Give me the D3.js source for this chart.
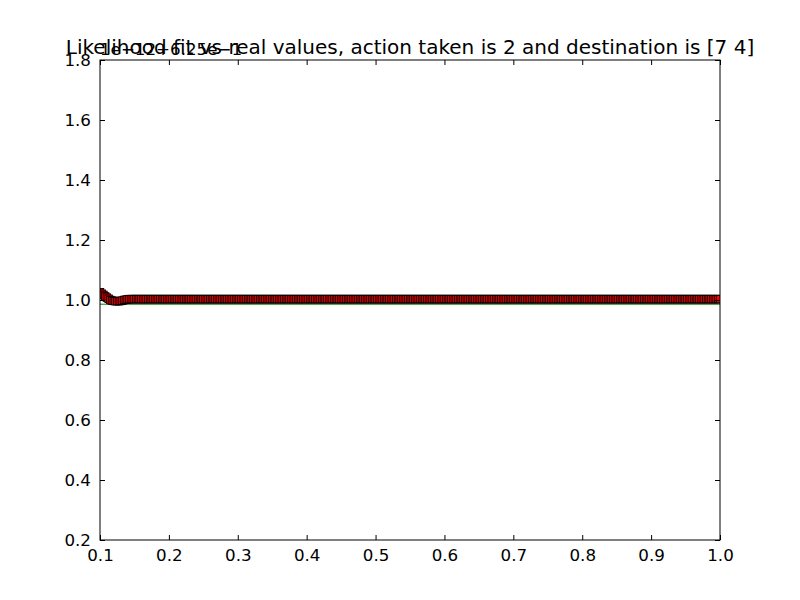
<!DOCTYPE html>
<html lang="en">
<head>
<meta charset="utf-8">
<title>Likelihood fit vs real values</title>
<script src="https://cdn.jsdelivr.net/npm/d3@7"></script>
<style>
  body { margin: 0; background: #fff; }
  svg { display: block; }
  text { font-family: "DejaVu Sans", sans-serif; fill: #000; }
  .axis path { stroke: #000; }
  .axis line { stroke: #000; }
</style>
</head>
<body>
<script>
// chart text
var titleText = "Likelihood fit vs real values, action taken is 2 and destination is [7 4]";
var offsetText = "1e\u221212+6.25e\u22121";

// tick labels
var xTicks = [0.1, 0.2, 0.3, 0.4, 0.5, 0.6, 0.7, 0.8, 0.9, 1.0];
var yTicks = [0.2, 0.4, 0.6, 0.8, 1.0, 1.2, 1.4, 1.6, 1.8];

// sample points (x), a dense grid across the axis
var xs = [
  0.1000,0.1025,0.1050,0.1075,0.1100,0.1125,0.1150,0.1175,
  0.1200,0.1225,0.1250,0.1275,0.1300,0.1325,0.1350,0.1375,
  0.1400,0.1425,0.1450,0.1475,0.1500,0.1525,0.1550,0.1575,
  0.1600,0.1625,0.1650,0.1675,0.1700,0.1725,0.1750,0.1775,
  0.1800,0.1825,0.1850,0.1875,0.1900,0.1925,0.1950,0.1975,
  0.2000,0.2025,0.2050,0.2075,0.2100,0.2125,0.2150,0.2175,
  0.2200,0.2225,0.2250,0.2275,0.2300,0.2325,0.2350,0.2375,
  0.2400,0.2425,0.2450,0.2475,0.2500,0.2525,0.2550,0.2575,
  0.2600,0.2625,0.2650,0.2675,0.2700,0.2725,0.2750,0.2775,
  0.2800,0.2825,0.2850,0.2875,0.2900,0.2925,0.2950,0.2975,
  0.3000,0.3025,0.3050,0.3075,0.3100,0.3125,0.3150,0.3175,
  0.3200,0.3225,0.3250,0.3275,0.3300,0.3325,0.3350,0.3375,
  0.3400,0.3425,0.3450,0.3475,0.3500,0.3525,0.3550,0.3575,
  0.3600,0.3625,0.3650,0.3675,0.3700,0.3725,0.3750,0.3775,
  0.3800,0.3825,0.3850,0.3875,0.3900,0.3925,0.3950,0.3975,
  0.4000,0.4025,0.4050,0.4075,0.4100,0.4125,0.4150,0.4175,
  0.4200,0.4225,0.4250,0.4275,0.4300,0.4325,0.4350,0.4375,
  0.4400,0.4425,0.4450,0.4475,0.4500,0.4525,0.4550,0.4575,
  0.4600,0.4625,0.4650,0.4675,0.4700,0.4725,0.4750,0.4775,
  0.4800,0.4825,0.4850,0.4875,0.4900,0.4925,0.4950,0.4975,
  0.5000,0.5025,0.5050,0.5075,0.5100,0.5125,0.5150,0.5175,
  0.5200,0.5225,0.5250,0.5275,0.5300,0.5325,0.5350,0.5375,
  0.5400,0.5425,0.5450,0.5475,0.5500,0.5525,0.5550,0.5575,
  0.5600,0.5625,0.5650,0.5675,0.5700,0.5725,0.5750,0.5775,
  0.5800,0.5825,0.5850,0.5875,0.5900,0.5925,0.5950,0.5975,
  0.6000,0.6025,0.6050,0.6075,0.6100,0.6125,0.6150,0.6175,
  0.6200,0.6225,0.6250,0.6275,0.6300,0.6325,0.6350,0.6375,
  0.6400,0.6425,0.6450,0.6475,0.6500,0.6525,0.6550,0.6575,
  0.6600,0.6625,0.6650,0.6675,0.6700,0.6725,0.6750,0.6775,
  0.6800,0.6825,0.6850,0.6875,0.6900,0.6925,0.6950,0.6975,
  0.7000,0.7025,0.7050,0.7075,0.7100,0.7125,0.7150,0.7175,
  0.7200,0.7225,0.7250,0.7275,0.7300,0.7325,0.7350,0.7375,
  0.7400,0.7425,0.7450,0.7475,0.7500,0.7525,0.7550,0.7575,
  0.7600,0.7625,0.7650,0.7675,0.7700,0.7725,0.7750,0.7775,
  0.7800,0.7825,0.7850,0.7875,0.7900,0.7925,0.7950,0.7975,
  0.8000,0.8025,0.8050,0.8075,0.8100,0.8125,0.8150,0.8175,
  0.8200,0.8225,0.8250,0.8275,0.8300,0.8325,0.8350,0.8375,
  0.8400,0.8425,0.8450,0.8475,0.8500,0.8525,0.8550,0.8575,
  0.8600,0.8625,0.8650,0.8675,0.8700,0.8725,0.8750,0.8775,
  0.8800,0.8825,0.8850,0.8875,0.8900,0.8925,0.8950,0.8975,
  0.9000,0.9025,0.9050,0.9075,0.9100,0.9125,0.9150,0.9175,
  0.9200,0.9225,0.9250,0.9275,0.9300,0.9325,0.9350,0.9375,
  0.9400,0.9425,0.9450,0.9475,0.9500,0.9525,0.9550,0.9575,
  0.9600,0.9625,0.9650,0.9675,0.9700,0.9725,0.9750,0.9775,
  0.9800,0.9825,0.9850,0.9875,0.9900,0.9925,0.9950,0.9975,
  1.0000];

// likelihood fit (red squares), in units of 1e-12 above 0.625
var fitValues = [
  1.026,1.021,1.017,1.012,1.008,1.004,1.000,0.998,
  0.997,0.996,0.996,0.996,0.997,0.998,1.000,1.001,
  1.002,1.003,1.003,1.003,1.003,1.003,1.003,1.003,
  1.003,1.003,1.003,1.003,1.003,1.003,1.003,1.003,
  1.003,1.003,1.003,1.003,1.003,1.003,1.003,1.003,
  1.003,1.003,1.003,1.003,1.003,1.003,1.003,1.003,
  1.003,1.003,1.003,1.003,1.003,1.003,1.003,1.003,
  1.003,1.003,1.003,1.003,1.003,1.003,1.003,1.003,
  1.003,1.003,1.003,1.003,1.003,1.003,1.003,1.003,
  1.003,1.003,1.003,1.003,1.003,1.003,1.003,1.003,
  1.003,1.003,1.003,1.003,1.003,1.003,1.003,1.003,
  1.003,1.003,1.003,1.003,1.003,1.003,1.003,1.003,
  1.003,1.003,1.003,1.003,1.003,1.003,1.003,1.003,
  1.003,1.003,1.003,1.003,1.003,1.003,1.003,1.003,
  1.003,1.003,1.003,1.003,1.003,1.003,1.003,1.003,
  1.003,1.003,1.003,1.003,1.003,1.003,1.003,1.003,
  1.003,1.003,1.003,1.003,1.003,1.003,1.003,1.003,
  1.003,1.003,1.003,1.003,1.003,1.003,1.003,1.003,
  1.003,1.003,1.003,1.003,1.003,1.003,1.003,1.003,
  1.003,1.003,1.003,1.003,1.003,1.003,1.003,1.003,
  1.003,1.003,1.003,1.003,1.003,1.003,1.003,1.003,
  1.003,1.003,1.003,1.003,1.003,1.003,1.003,1.003,
  1.003,1.003,1.003,1.003,1.003,1.003,1.003,1.003,
  1.003,1.003,1.003,1.003,1.003,1.003,1.003,1.003,
  1.003,1.003,1.003,1.003,1.003,1.003,1.003,1.003,
  1.003,1.003,1.003,1.003,1.003,1.003,1.003,1.003,
  1.003,1.003,1.003,1.003,1.003,1.003,1.003,1.003,
  1.003,1.003,1.003,1.003,1.003,1.003,1.003,1.003,
  1.003,1.003,1.003,1.003,1.003,1.003,1.003,1.003,
  1.003,1.003,1.003,1.003,1.003,1.003,1.003,1.003,
  1.003,1.003,1.003,1.003,1.003,1.003,1.003,1.003,
  1.003,1.003,1.003,1.003,1.003,1.003,1.003,1.003,
  1.003,1.003,1.003,1.003,1.003,1.003,1.003,1.003,
  1.003,1.003,1.003,1.003,1.003,1.003,1.003,1.003,
  1.003,1.003,1.003,1.003,1.003,1.003,1.003,1.003,
  1.003,1.003,1.003,1.003,1.003,1.003,1.003,1.003,
  1.003,1.003,1.003,1.003,1.003,1.003,1.003,1.003,
  1.003,1.003,1.003,1.003,1.003,1.003,1.003,1.003,
  1.003,1.003,1.003,1.003,1.003,1.003,1.003,1.003,
  1.003,1.003,1.003,1.003,1.003,1.003,1.003,1.003,
  1.003,1.003,1.003,1.003,1.003,1.003,1.003,1.003,
  1.003,1.003,1.003,1.003,1.003,1.003,1.003,1.003,
  1.003,1.003,1.003,1.003,1.003,1.003,1.003,1.003,
  1.003,1.003,1.003,1.003,1.003,1.003,1.003,1.003,
  1.003,1.003,1.003,1.003,1.003,1.003,1.003,1.003,
  1.003];

// real values (green line)
var realX = [0.1, 1.0];
var realValues = [0.986, 0.986];

var w = 800;
var h = 600;
var plotLeft = 100, plotRight = 720, plotTop = 60, plotBottom = 540;

var xScale = d3.scaleLinear().domain([0.1, 1.0]).range([plotLeft, plotRight]);
var yScale = d3.scaleLinear().domain([0.2, 1.8]).range([plotBottom, plotTop]);

var svg = d3.select("body").append("svg")
  .attr("width", w)
  .attr("height", h);

svg.append("defs").append("clipPath").attr("id", "plotclip")
  .append("rect")
  .attr("x", plotLeft).attr("y", plotTop)
  .attr("width", plotRight - plotLeft).attr("height", plotBottom - plotTop);

var plot = svg.append("g").attr("clip-path", "url(#plotclip)");

// real values line
var line = d3.line()
  .x(function(d, i) { return xScale(realX[i]); })
  .y(function(d) { return yScale(d); });

plot.append("path")
  .datum(realValues)
  .attr("d", line)
  .attr("fill", "none")
  .attr("stroke", "#008000")
  .attr("stroke-width", 1);

// fit markers (dense, so the black edges darken the band)
var ms = 7.5;
plot.selectAll("rect.fit")
  .data(fitValues)
  .enter()
  .append("rect")
  .attr("class", "fit")
  .attr("x", function(d, i) { return xScale(xs[i]) - ms / 2; })
  .attr("y", function(d) { return yScale(d) - ms / 2; })
  .attr("width", ms)
  .attr("height", ms)
  .attr("fill", "#ff0000")
  .attr("stroke", "#000")
  .attr("stroke-width", 0.9);

// axes: ticks inward on all four sides
var fmt = d3.format(".1f");
var tickLen = 5;

svg.append("g").attr("class", "axis")
  .attr("transform", "translate(0," + plotBottom + ")")
  .call(d3.axisBottom(xScale).tickValues(xTicks).tickFormat(fmt)
    .tickSizeInner(-tickLen).tickSizeOuter(0).tickPadding(9))
  .call(function(g) { g.select(".domain").remove(); })
  .selectAll("text").attr("font-size", "16.7px");

svg.append("g").attr("class", "axis")
  .attr("transform", "translate(0," + plotTop + ")")
  .call(d3.axisTop(xScale).tickValues(xTicks).tickFormat("")
    .tickSizeInner(-tickLen).tickSizeOuter(0))
  .call(function(g) { g.select(".domain").remove(); });

svg.append("g").attr("class", "axis")
  .attr("transform", "translate(" + plotLeft + ",0)")
  .call(d3.axisLeft(yScale).tickValues(yTicks).tickFormat(fmt)
    .tickSizeInner(-tickLen).tickSizeOuter(0).tickPadding(9))
  .call(function(g) { g.select(".domain").remove(); })
  .selectAll("text").attr("font-size", "16.7px");

svg.append("g").attr("class", "axis")
  .attr("transform", "translate(" + plotRight + ",0)")
  .call(d3.axisRight(yScale).tickValues(yTicks).tickFormat("")
    .tickSizeInner(-tickLen).tickSizeOuter(0))
  .call(function(g) { g.select(".domain").remove(); });

// frame
svg.append("rect")
  .attr("x", plotLeft).attr("y", plotTop)
  .attr("width", plotRight - plotLeft).attr("height", plotBottom - plotTop)
  .attr("fill", "none")
  .attr("stroke", "#000")
  .attr("stroke-width", 1);

// offset text and title
svg.append("text")
  .attr("x", plotLeft)
  .attr("y", 55)
  .attr("font-size", "16.7px")
  .text(offsetText);

svg.append("text")
  .attr("x", (plotLeft + plotRight) / 2)
  .attr("y", 54)
  .attr("text-anchor", "middle")
  .attr("font-size", "20px")
  .text(titleText);
</script>
</body>
</html>
